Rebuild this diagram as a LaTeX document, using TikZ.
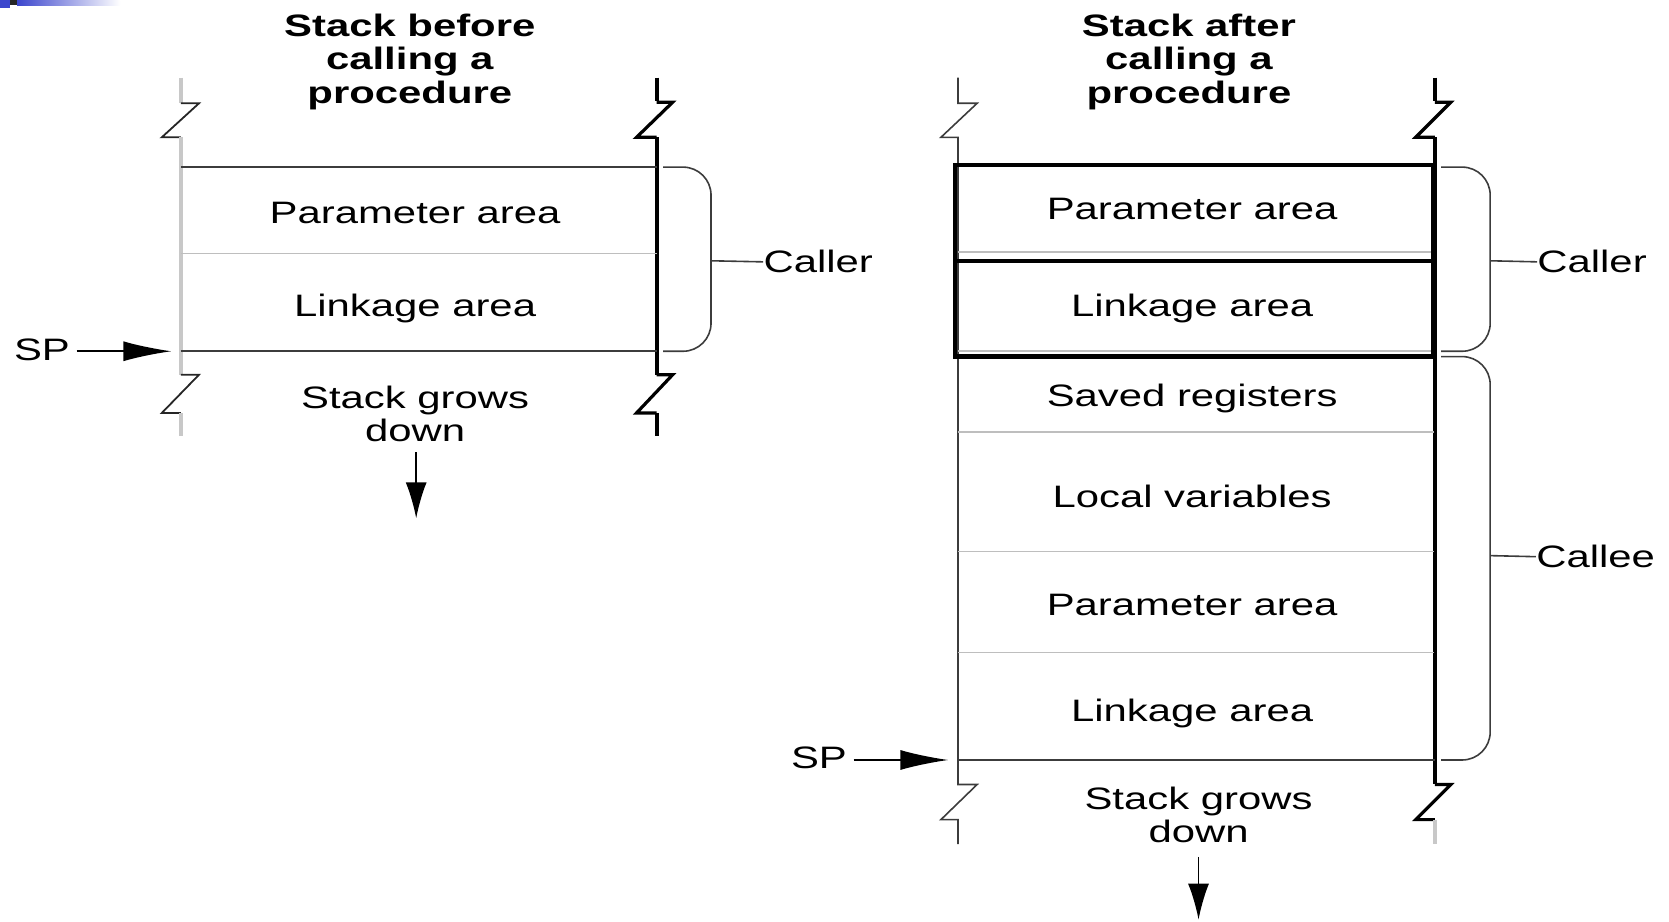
\documentclass[tikz,border=0pt]{standalone}
\usepackage{fontspec}
\setmainfont[FakeStretch=1.35]{Liberation Sans}
\usetikzlibrary{arrows.meta}
\definecolor{wallgray}{RGB}{200,200,200}
\definecolor{rowgray}{RGB}{190,190,190}
\definecolor{linedark}{RGB}{60,60,60}
\definecolor{slideblue}{RGB}{60,70,205}
\begin{document}
\begin{tikzpicture}[x=0.5322pt,y=-0.5322pt,
  lbl/.style={font=\fontsize{15.5}{16.5}\selectfont, inner sep=0pt, align=center},
  ttl/.style={font=\fontsize{15.5}{16.8}\selectfont\bfseries, inner sep=0pt, align=center},
  paleWall/.style={draw=wallgray, line width=2.2pt},
  darkWall/.style={draw=black, line width=2.2pt},
  thinWall/.style={draw=linedark, line width=0.8pt},
  zigline/.style={draw=black!85, line width=0.9pt},
  zigthick/.style={draw=black, line width=1.6pt},
  rowline/.style={draw=rowgray, line width=0.8pt},
  edgeline/.style={draw=linedark, line width=0.9pt},
  boxline/.style={draw=black, line width=2.2pt},
  bracket/.style={draw=linedark, line width=0.8pt, rounded corners=14},
  tickline/.style={draw=linedark, line width=0.8pt},
  sparrow/.style={draw=black, line width=0.8pt, -{Latex[length=24pt,width=10pt]}},
  downarrow/.style={draw=black, line width=0.9pt, -{Latex[length=18pt,width=10.5pt]}}
]
\useasboundingbox (0,0) rectangle (1568,866);
% slide decoration
\shade[left color=slideblue, right color=white] (16,0) rectangle (113,4.7);
\fill[slideblue] (0,0) rectangle (9.4,7.5);
\fill[black!85] (9.4,0) rectangle (16,4.7);

% ---------------- left stack ----------------
\node[ttl] (t1) at (385,58) {Stack before\\calling a\\procedure};
% left wall
\draw[paleWall] (170,73) -- (170,97);
\draw[zigline] (170,97) -- (187,97) -- (152,129) -- (170,129);
\draw[paleWall] (170,129) -- (170,352);
\draw[zigline] (170,352) -- (187,352) -- (152,388) -- (170,388);
\draw[paleWall] (170,388) -- (170,410);
% right wall
\draw[darkWall] (617,73) -- (617,95);
\draw[zigthick] (617,96) -- (632,96) -- (598,129) -- (617,129);
\draw[darkWall] (617,129) -- (617,352);
\draw[zigthick] (617,352) -- (632,352) -- (598,388) -- (617,388);
\draw[darkWall] (617,388) -- (617,410);
% rows
\draw[edgeline] (170,157) -- (617,157);
\draw[rowline] (170,238) -- (617,238);
\draw[edgeline] (170,330) -- (617,330);
\node[lbl] (p1) at (390,200) {Parameter area};
\node[lbl] (l1) at (390,290) {Linkage area};
\node[lbl] (g1) at (390,389) {Stack grows\\down};
\coordinate (g1end) at (391,487);
\draw[downarrow] (391,425) -- (g1end);
% bracket
\draw[bracket] (623,157) -- (668,157) -- (668,330) -- (623,330);
\node[lbl, anchor=west] (c1) at (717,246) {Caller};
\draw[tickline] (668,245) -- (c1.west);
% SP
\node[lbl, anchor=east] (sp1) at (66,329) {SP};
\coordinate (sp1tip) at (161,330);
\draw[sparrow] (72,330) -- (sp1tip);

% ---------------- right stack ----------------
\node[ttl] (t2) at (1117,58) {Stack after\\calling a\\procedure};
% left wall
\draw[thinWall] (900,73) -- (900,97) -- (918,97) -- (884,129) -- (900,129) -- (900,737)
  -- (918,737) -- (884,770) -- (900,770) -- (900,793);
% right wall
\draw[darkWall] (1348,73) -- (1348,95);
\draw[zigthick] (1348,96) -- (1363,96) -- (1330,129) -- (1348,129);
\draw[darkWall] (1348,129) -- (1348,737);
\draw[zigthick] (1348,737) -- (1363,737) -- (1330,770) -- (1348,770);
\draw[paleWall] (1348,770) -- (1348,793);
% rows
\draw[rowline] (900,237) -- (1347,237);
\draw[rowline] (900,330) -- (1347,330);
\draw[rowline] (900,406) -- (1347,406);
\draw[rowline] (900,518) -- (1347,518);
\draw[rowline] (900,613) -- (1347,613);
\draw[edgeline] (900,714) -- (1348,714);
\draw[boxline] (897,155) rectangle (1346,245);
\draw[boxline] (897,245) rectangle (1346,335);
\node[lbl] (p2) at (1120,196) {Parameter area};
\node[lbl] (l2) at (1120,290) {Linkage area};
\node[lbl] (s2) at (1120,374) {Saved registers};
\node[lbl] (v2) at (1120,466) {Local variables};
\node[lbl] (p3) at (1120,568) {Parameter area};
\node[lbl] (l3) at (1120,670) {Linkage area};
\node[lbl] (g2) at (1126,766) {Stack grows\\down};
\coordinate (g2end) at (1126,864);
\draw[downarrow] (1126,805) -- (g2end);
% brackets
\draw[bracket] (1354,157) -- (1400,157) -- (1400,330) -- (1354,330);
\node[lbl, anchor=west] (c2) at (1444,246) {Caller};
\draw[tickline] (1400,245) -- (c2.west);
\draw[bracket] (1354,335) -- (1400,335) -- (1400,714) -- (1354,714);
\node[lbl, anchor=west] (e2) at (1443,523) {Callee};
\draw[tickline] (1400,522) -- (e2.west);
% SP
\node[lbl, anchor=east] (sp2) at (796,712) {SP};
\coordinate (sp2tip) at (891,714);
\draw[sparrow] (802,714) -- (sp2tip);
\end{tikzpicture}
\end{document}
